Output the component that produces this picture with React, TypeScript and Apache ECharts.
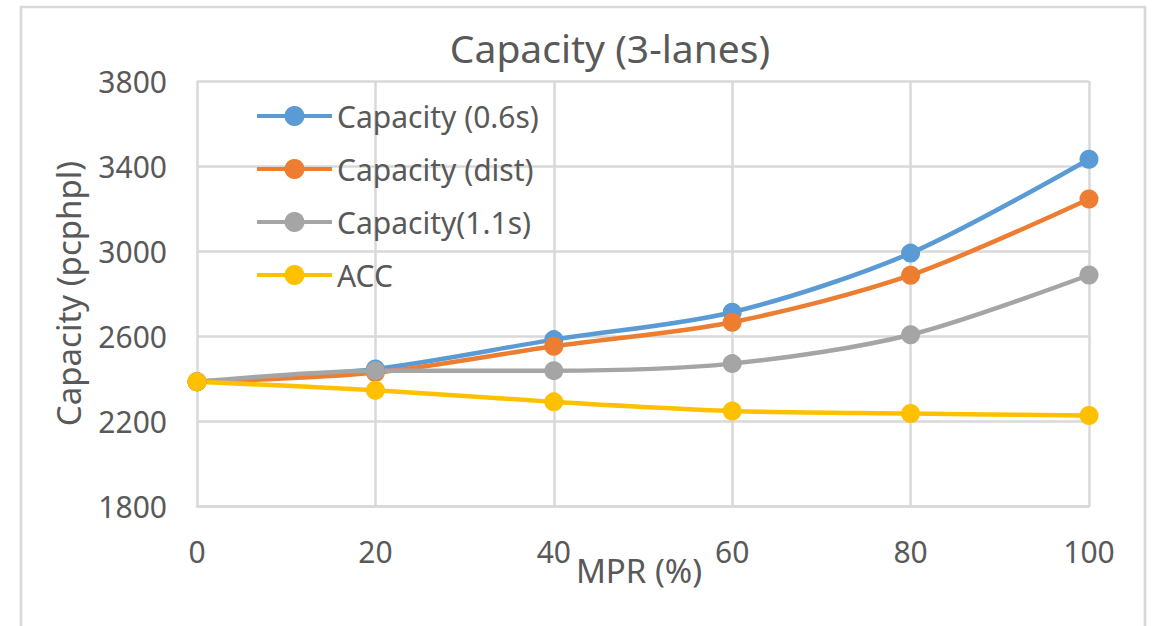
import React, { useEffect, useRef } from "react";
import * as echarts from "echarts";

// MPR (%) sampled every 20 points
const mpr = [0, 20, 40, 60, 80, 100];

// Capacity in pcphpl for each scenario
const capacity06s = [2385, 2445, 2583, 2712, 2990, 3432];
const capacityDist = [2385, 2428, 2552, 2665, 2886, 3245];
const capacity11s = [2385, 2437, 2437, 2470, 2606, 2887];
const acc = [2385, 2345, 2290, 2247, 2235, 2226];

const seriesNames = ["Capacity (0.6s)", "Capacity (dist)", "Capacity(1.1s)", "ACC"];
const seriesColors = ["#5B9BD5", "#ED7D31", "#A5A5A5", "#FFC000"];
const seriesValues = [capacity06s, capacityDist, capacity11s, acc];

const FONT = "'Noto Sans', 'Open Sans', sans-serif";
const TEXT = "#595959";
const GRID = "#D9D9D9";

export default function App() {
  const ref = useRef<HTMLDivElement>(null);

  useEffect(() => {
    if (!ref.current) return;
    const chart = echarts.init(ref.current, undefined, { renderer: "svg" });

    const series = seriesNames.map((name, i) => ({
      name,
      type: "line",
      data: mpr.map((x, j) => [x, seriesValues[i][j]]),
      smooth: 0.3,
      symbol: "circle",
      symbolSize: 19,
      color: seriesColors[i],
      lineStyle: { width: 4.5, color: seriesColors[i] },
      itemStyle: { color: seriesColors[i] },
    }));

    chart.setOption({
      animation: false,
      backgroundColor: "#ffffff",
      textStyle: { fontFamily: FONT, color: TEXT },
      title: {
        text: "Capacity (3-lanes)",
        left: 605,
        top: 23,
        textAlign: "center",
        textStyle: { fontFamily: FONT, fontSize: 39, fontWeight: "normal", color: TEXT },
      },
      graphic: [
        {
          type: "rect",
          shape: { x: 21, y: 7, width: 1124, height: 660 },
          style: { fill: "none", stroke: GRID, lineWidth: 2.7 },
          silent: true,
          z: -1,
        },
      ],
      legend: {
        orient: "vertical",
        left: 250,
        top: 96,
        itemWidth: 75,
        itemHeight: 25,
        itemGap: 23,
        data: seriesNames,
        lineStyle: { width: 4 },
        textStyle: { fontFamily: FONT, fontSize: 30, color: TEXT },
      },
      grid: { left: 197, right: 64, top: 81, bottom: 120, containLabel: false },
      xAxis: {
        type: "value",
        min: 0,
        max: 100,
        interval: 20,
        name: "MPR (%)",
        nameLocation: "middle",
        nameGap: 48,
        nameMoveOverlap: false,
        nameTextStyle: { fontFamily: FONT, fontSize: 33, color: TEXT, padding: [0, 8, 0, 0] },
        axisLine: { show: true, lineStyle: { color: GRID, width: 2.7 } },
        axisTick: { show: false },
        axisLabel: { fontFamily: FONT, fontSize: 30, color: TEXT, margin: 30 },
        splitLine: { show: true, lineStyle: { color: GRID, width: 2.5 } },
      },
      yAxis: {
        type: "value",
        min: 1800,
        max: 3800,
        interval: 400,
        name: "Capacity (pcphpl)",
        nameLocation: "middle",
        nameGap: 112,
        nameMoveOverlap: false,
        nameTextStyle: { fontFamily: FONT, fontSize: 33, color: TEXT },
        axisLine: { show: false },
        axisTick: { show: false },
        axisLabel: {
          fontFamily: FONT,
          fontSize: 30,
          color: TEXT,
          margin: 30,
          formatter: (v: number) => String(v),
        },
        splitLine: { show: true, lineStyle: { color: GRID, width: 2.5 } },
      },
      series,
    });

    return () => chart.dispose();
  }, []);

  return (
    <div
      ref={ref}
      style={{ position: "fixed", left: 0, top: 0, width: 1153, height: 626, background: "#fff" }}
    />
  );
}
